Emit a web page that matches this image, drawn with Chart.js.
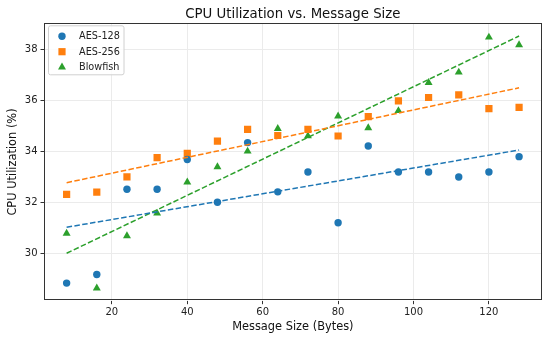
<!DOCTYPE html>
<html>
<head>
<meta charset="utf-8">
<script src="https://cdn.jsdelivr.net/npm/chart.js@4.4.1/dist/chart.umd.min.js"></script>
<style>
  html, body { margin: 0; padding: 0; background: #fff; }
  canvas { display: block; }
</style>
</head>
<body>
<canvas id="c" width="550" height="342"></canvas>
<script>
// ---- data ----
const messageSizes = [8, 16, 24, 32, 40, 48, 56, 64, 72, 80, 88, 96, 104, 112, 120, 128];
const aes128 = [28.82, 29.16, 32.50, 32.50, 33.67, 31.99, 34.33, 32.40, 33.18, 31.19, 34.20, 33.18, 33.18, 32.98, 33.18, 33.78];
const aes256 = [32.30, 32.39, 32.99, 33.74, 33.91, 34.39, 34.85, 34.61, 34.85, 34.59, 35.35, 35.97, 36.10, 36.20, 35.66, 35.71];
const blowfish = [30.77, 28.62, 30.67, 31.56, 32.78, 33.38, 33.99, 34.88, 34.59, 35.37, 34.91, 35.58, 36.68, 37.09, 38.46, 38.16];
const trendX = [8, 128];
const aes128Trend = [31.01, 34.04];
const aes256Trend = [32.76, 36.48];
const blowfishTrend = [29.99, 38.51];
const xTicks = [20, 40, 60, 80, 100, 120];
const yTicks = [30, 32, 34, 36, 38];
const chartTitle = 'CPU Utilization vs. Message Size';

const FONT = "'DejaVu Sans', sans-serif";
const C_BLUE = '#1f77b4', C_ORANGE = '#ff7f0e', C_GREEN = '#2ca02c';

const pts = (xs, ys) => xs.map((x, i) => ({ x: x, y: ys[i] }));

function drawMarker(ctx, style, x, y, color) {
  ctx.save();
  ctx.fillStyle = color;
  ctx.beginPath();
  if (style === 'circle') {
    ctx.arc(x, y, 3.7, 0, Math.PI * 2);
  } else if (style === 'rect') {
    ctx.rect(x - 3.6, y - 3.6, 7.2, 7.2);
  } else {
    const r = 4.6;
    ctx.moveTo(x, y - r);
    ctx.lineTo(x + r * 0.866, y + r * 0.5);
    ctx.lineTo(x - r * 0.866, y + r * 0.5);
    ctx.closePath();
  }
  ctx.fill();
  ctx.restore();
}

const framePlugin = {
  id: 'frame',
  afterDatasetsDraw(chart) {
    const a = chart.chartArea, ctx = chart.ctx;
    ctx.save();
    ctx.strokeStyle = '#333';
    ctx.lineWidth = 1;
    ctx.strokeRect(Math.round(a.left) + 0.5, Math.round(a.top) + 0.5,
                   Math.round(a.right - a.left) - 1, Math.round(a.bottom - a.top) - 1);
    ctx.restore();
  }
};

const titlePlugin = {
  id: 'axesTitle',
  afterDraw(chart) {
    const a = chart.chartArea, ctx = chart.ctx;
    ctx.save();
    ctx.font = '13.3px ' + FONT;
    ctx.fillStyle = '#111';
    ctx.textAlign = 'center';
    ctx.textBaseline = 'alphabetic';
    ctx.fillText(chartTitle, (a.left + a.right) / 2, 18.3);
    ctx.restore();
  }
};

const legendPlugin = {
  id: 'innerLegend',
  afterDraw(chart) {
    const ctx = chart.ctx, a = chart.chartArea;
    const items = chart.data.datasets.filter(d => d.inLegend);
    const x0 = a.left + 4.5, y0 = a.top + 2.5, w = 75.5, h = 49;
    ctx.save();
    ctx.fillStyle = 'rgba(255,255,255,0.85)';
    ctx.strokeStyle = '#d0d0d0';
    ctx.lineWidth = 1;
    ctx.beginPath();
    if (ctx.roundRect) ctx.roundRect(x0, y0, w, h, 2); else ctx.rect(x0, y0, w, h);
    ctx.fill();
    ctx.stroke();
    ctx.font = '9.7px ' + FONT;
    ctx.textBaseline = 'middle';
    items.forEach((d, i) => {
      const cy = y0 + 10.5 + i * 15.4;
      drawMarker(ctx, d.pointStyle, x0 + 13.5, cy, d.backgroundColor);
      ctx.fillStyle = '#222';
      ctx.fillText(d.label, x0 + 30.5, cy + 0.5);
    });
    ctx.restore();
  }
};

const scatterDs = (label, ys, color, style, radius) => ({
  type: 'scatter',
  label: label,
  data: pts(messageSizes, ys),
  backgroundColor: color,
  borderColor: color,
  borderWidth: 0,
  pointStyle: style,
  pointRadius: radius,
  pointHoverRadius: radius,
  inLegend: true,
  order: 1
});
const trendDs = (ys, color) => ({
  type: 'line',
  label: 'trend',
  data: pts(trendX, ys),
  borderColor: color,
  backgroundColor: color,
  borderWidth: 1.5,
  borderDash: [5.5, 2.4],
  pointRadius: 0,
  fill: false,
  order: 0
});

new Chart(document.getElementById('c'), {
  type: 'scatter',
  data: {
    datasets: [
      scatterDs('AES-128', aes128, C_BLUE, 'circle', 3.7),
      scatterDs('AES-256', aes256, C_ORANGE, 'rect', 5.1),
      scatterDs('Blowfish', blowfish, C_GREEN, 'triangle', 4.6),
      trendDs(aes128Trend, C_BLUE),
      trendDs(aes256Trend, C_ORANGE),
      trendDs(blowfishTrend, C_GREEN)
    ]
  },
  options: {
    responsive: false,
    animation: false,
    devicePixelRatio: 1,
    layout: { padding: { left: 0, right: 8.3, top: 23.3, bottom: 0 } },
    plugins: {
      legend: { display: false },
      tooltip: { enabled: false },
      title: { display: false }
    },
    scales: {
      x: {
        type: 'linear',
        min: 2,
        max: 134,
        afterBuildTicks: s => { s.ticks = xTicks.map(v => ({ value: v })); },
        afterFit: s => { s.height = 41.3; },
        ticks: {
          color: '#222',
          font: { family: FONT, size: 10 },
          padding: 2,
          maxRotation: 0,
          autoSkip: false
        },
        grid: { color: '#ebebeb', lineWidth: 1, tickLength: 3.5, tickColor: '#333' },
        border: { display: false },
        title: {
          display: true,
          text: 'Message Size (Bytes)',
          color: '#111',
          font: { family: FONT, size: 11.4, lineHeight: 1.2 },
          padding: { top: 0, bottom: 8.5 }
        }
      },
      y: {
        type: 'linear',
        min: 28.13,
        max: 39.01,
        afterBuildTicks: s => { s.ticks = yTicks.map(v => ({ value: v })); },
        afterFit: s => { s.width = 44; },
        ticks: {
          color: '#222',
          font: { family: FONT, size: 10 },
          padding: 3,
          autoSkip: false
        },
        grid: { color: '#ebebeb', lineWidth: 1, tickLength: 3.5, tickColor: '#333' },
        border: { display: false },
        title: {
          display: true,
          text: 'CPU Utilization (%)',
          color: '#111',
          font: { family: FONT, size: 11.4, lineHeight: 1.2 },
          padding: { top: 6.2, bottom: 0 }
        }
      }
    }
  },
  plugins: [framePlugin, titlePlugin, legendPlugin]
});
</script>
</body>
</html>
